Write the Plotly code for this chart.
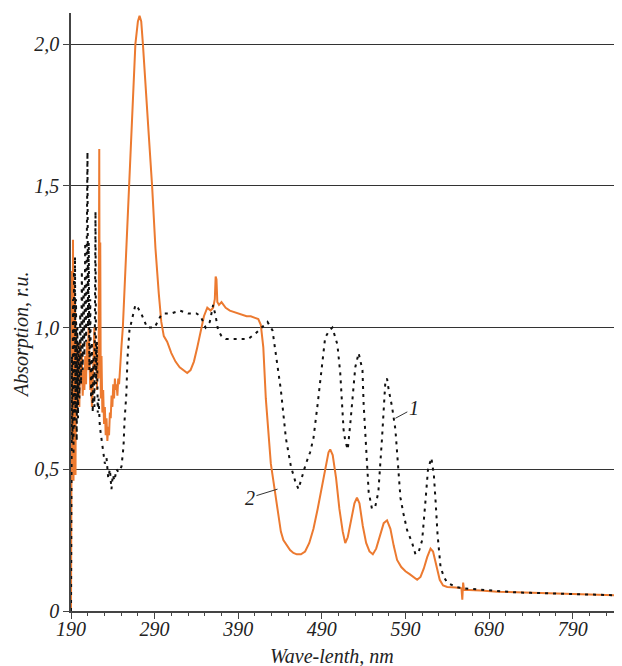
import plotly.graph_objects as go

# Curve 2 (orange, solid)
wl_2 = [190.0, 190.6, 191.2, 191.8, 192.4, 193.0, 193.6, 194.2, 194.8, 195.4, 196.0, 196.8, 197.6, 198.4,
        199.2, 200.0, 201.0, 202.0, 203.0, 204.0, 205.0, 206.0, 207.0, 208.0, 209.0, 210.0, 211.0, 212.0,
        213.0, 214.0, 215.0, 216.0, 217.0, 218.0, 219.0, 220.0, 221.0, 222.0, 223.0, 223.8, 224.3, 225.0,
        225.6, 226.5, 227.5, 228.5, 229.5, 230.5, 231.5, 232.5, 233.5, 234.5, 235.5, 236.5, 237.5, 238.5,
        239.5, 240.5, 241.5, 242.5, 243.5, 244.5, 245.5, 246.5, 247.5, 248.5, 249.5, 250.5, 252.0,
        256, 260, 264, 267, 270, 272, 274, 276, 279, 283, 287, 291, 295, 298, 301, 305, 310, 315, 320, 325,
        329, 333, 337, 341, 345, 349, 353, 357, 360, 362, 363, 364, 365, 367, 370, 375, 380, 390, 400, 405,
        410, 414, 417, 420, 423, 426, 429, 432, 435, 438, 441, 444, 448, 452, 456, 460, 465, 470, 475, 480,
        485, 490, 494, 498, 500, 503, 507, 511, 515, 518, 521, 525, 529, 532, 535, 539, 543, 547, 551, 555,
        560, 564, 568, 572, 576, 580, 585, 590, 595, 600, 604, 608, 612, 616, 620, 623, 627, 631, 635, 640,
        650, 657, 658, 659, 660, 670, 680, 700, 720, 740, 760, 780, 800, 820, 849]
abs_2 = [0.0, 0.9, 1.2, 0.6, 1.31, 0.46, 1.15, 0.55, 1.1, 0.48, 1.0, 0.7, 0.95, 0.75,
         0.9, 0.72, 0.95, 0.8, 0.9, 0.76, 0.85, 0.78, 0.9, 0.8, 0.95, 0.85, 1.0, 0.9,
         0.78, 0.85, 0.72, 0.8, 0.95, 1.0, 0.85, 0.95, 0.78, 0.9, 0.82, 1.63, 0.87, 1.3,
         0.75, 0.9, 0.7, 0.78, 0.66, 0.72, 0.62, 0.68, 0.6, 0.65, 0.62, 0.7, 0.68, 0.76,
         0.72, 0.8, 0.75, 0.82, 0.78, 0.8, 0.76, 0.82, 0.8, 0.86, 0.9, 0.94, 1.0,
         1.25, 1.5, 1.8, 2.0, 2.08, 2.1, 2.08, 2.0, 1.85, 1.68, 1.5, 1.28, 1.12, 1.02, 0.97, 0.95, 0.91,
         0.88, 0.86, 0.85, 0.84, 0.85, 0.88, 0.93, 0.99, 1.04, 1.07, 1.06, 1.07, 1.10, 1.18, 1.17, 1.09,
         1.08, 1.09, 1.07, 1.06, 1.05, 1.04, 1.04, 1.035, 1.03, 1.01, 0.93, 0.75, 0.62, 0.52, 0.46, 0.40,
         0.33, 0.28, 0.25, 0.23, 0.215, 0.205, 0.2, 0.2, 0.21, 0.24, 0.29, 0.36, 0.44, 0.51, 0.56, 0.57,
         0.55, 0.47, 0.36, 0.28, 0.24, 0.26, 0.32, 0.38, 0.40, 0.38, 0.30, 0.24, 0.21, 0.2, 0.22, 0.27,
         0.31, 0.32, 0.29, 0.23, 0.18, 0.155, 0.14, 0.13, 0.12, 0.11, 0.12, 0.15, 0.19, 0.22, 0.21, 0.16,
         0.11, 0.09, 0.085, 0.083, 0.08, 0.04, 0.1, 0.075, 0.074, 0.072, 0.068, 0.066, 0.064, 0.062, 0.06,
         0.058, 0.056, 0.055]

# Curve 1 (black, dotted)
wl_1 = [190.0, 190.6, 191.2, 191.8, 192.4, 193.0, 193.6, 194.2, 194.8, 195.4, 196.0, 196.8, 197.6, 198.4,
        199.2, 200.0, 201.0, 202.0, 203.0, 204.0, 205.0, 206.0, 207.0, 208.0, 209.0, 209.7, 210.4, 211.2,
        212.0, 213.0, 214.0, 215.0, 216.0, 217.0, 218.0, 219.3, 220.0, 221.0, 222.0, 223.0, 224.5, 226.5,
        228.5, 230.5, 232.5, 234.5, 236.5, 238.4, 240.0, 242.0, 244.4, 246.8, 249.0, 250.4, 252.8, 254.0,
        256.3, 257.5, 259.9, 263.5, 267, 270, 274, 281, 290, 297, 300, 310, 320, 330, 340, 345, 351, 356,
        360, 363, 366, 370, 375, 390, 402, 411, 418, 425, 431, 436, 441, 447, 453, 458, 462, 467, 471, 476,
        480, 485, 490, 494, 499, 502.6, 508.6, 512, 514.6, 516, 518, 521, 524, 527.6, 530, 534, 538.6, 540,
        542, 544.5, 546, 550, 554, 557.6, 560, 562, 564, 566, 568, 570, 574, 578, 580, 582, 584, 587.5, 592,
        598, 602, 606, 610, 614, 617, 621, 624, 626, 628.4, 632, 636, 640, 650, 660, 680, 700, 720, 740,
        760, 780, 800, 820, 849]
abs_1 = [0.0, 0.5, 0.9, 0.6, 1.1, 0.55, 1.2, 0.65, 1.25, 0.7, 1.1, 0.6, 1.0, 0.68,
         0.95, 0.75, 1.05, 0.8, 1.2, 0.85, 1.15, 0.9, 1.3, 0.95, 1.45, 1.62, 1.0, 1.3,
         0.85, 1.1, 0.75, 0.95, 0.7, 0.9, 0.72, 1.41, 0.8, 0.95, 0.7, 0.75, 0.65, 0.6,
         0.55, 0.52, 0.54, 0.47, 0.5, 0.43, 0.48, 0.46, 0.5, 0.49, 0.5, 0.51, 0.58, 0.67,
         0.77, 0.89, 0.99, 1.04, 1.08, 1.07, 1.05, 1.0, 1.0, 1.04, 1.05, 1.05, 1.06, 1.05, 1.05, 1.04, 1.0, 1.02,
         1.08, 1.04, 0.99, 0.97, 0.96, 0.96, 0.96, 0.98, 1.0, 1.02, 0.99, 0.89, 0.78, 0.61, 0.51, 0.46, 0.43,
         0.48, 0.52, 0.56, 0.61, 0.73, 0.85, 0.965, 0.99, 1.0, 0.94, 0.84, 0.71, 0.64, 0.6, 0.57, 0.66, 0.77,
         0.86, 0.91, 0.85, 0.73, 0.61, 0.51, 0.42, 0.36, 0.37, 0.42, 0.51, 0.61, 0.71, 0.81, 0.82, 0.78, 0.72,
         0.64, 0.56, 0.46, 0.40, 0.345, 0.285, 0.24, 0.20, 0.21, 0.25, 0.39, 0.5, 0.54, 0.48, 0.39, 0.27,
         0.155, 0.12, 0.10, 0.085, 0.08, 0.075, 0.07, 0.066, 0.064, 0.062, 0.06, 0.058, 0.056, 0.055]

x_ticks = [190, 290, 390, 490, 590, 690, 790]
x_ticktext = ["190", "290", "390", "490", "590", "690", "790"]
y_ticks = [0, 0.5, 1.0, 1.5, 2.0]
y_ticktext = ["0", "0,5", "1,0", "1,5", "2,0"]

FONT = "Liberation Serif"
W, H = 622, 666
OFF = 8  # page body offset in the browser
# target plot area in the photographed window: x 71..622, y 13..611
L, T = 71 - OFF, 13 - OFF
PW, PH = 551, 598
R = W - L - PW
B = H - T - PH

fig = go.Figure()
fig.add_trace(go.Scatter(x=wl_2, y=abs_2, mode="lines",
                         line=dict(color="#EC7A30", width=2), name="2"))
fig.add_trace(go.Scatter(x=wl_1, y=abs_1, mode="lines",
                         line=dict(color="#111111", width=2, dash="3px,5px"), name="1"))

tickfont = dict(family=FONT, size=20, style="italic", color="#222")
fig.update_layout(
    width=W, height=H, margin=dict(l=L, r=R, t=T, b=B, autoexpand=False),
    plot_bgcolor="white", paper_bgcolor="white", showlegend=False,
    xaxis=dict(range=[190, 849], tickvals=x_ticks, ticktext=x_ticktext, tickfont=tickfont,
               showgrid=False, zeroline=False, showline=True, linecolor="#444", linewidth=1.5,
               ticks="outside", ticklen=6, tickwidth=1.2, tickcolor="#444", automargin=False,
               ticklabelstandoff=-7,
               minor=dict(dtick=20, tick0=190, ticks="outside", ticklen=3, tickwidth=1, tickcolor="#444", showgrid=False)),
    yaxis=dict(range=[0, 2.11], tickvals=y_ticks, ticktext=y_ticktext, tickfont=tickfont,
               showgrid=True, gridcolor="#333", gridwidth=1.4, zeroline=False, automargin=False,
               showline=True, linecolor="#444", linewidth=1.5,
               ticks="outside", ticklen=6, tickwidth=1.2, tickcolor="#444"),
)

def px_x(p):
    return (p - OFF - L) / PW
def px_y(p):
    return (T + PH - (p - OFF)) / PH

fig.add_annotation(x=px_x(332), y=px_y(656), xref="paper", yref="paper", text="Wave-lenth, nm",
                   xanchor="center", yanchor="middle",
                   showarrow=False, font=dict(family=FONT, size=20, style="italic", color="#222"))
fig.add_annotation(x=px_x(21), y=px_y(335), xref="paper", yref="paper", text="Absorption, r.u.",
                   xanchor="center", yanchor="middle",
                   textangle=-90, showarrow=False, font=dict(family=FONT, size=20, style="italic", color="#222"))

fig.add_annotation(x=578, y=0.68, ax=600, ay=0.715, xref="x", yref="y", axref="x", ayref="y",
                   text="1", showarrow=True, arrowhead=0, arrowwidth=1, arrowcolor="#333",
                   font=dict(family=FONT, size=20, style="italic", color="#222"))
fig.add_annotation(x=437, y=0.43, ax=404, ay=0.40, xref="x", yref="y", axref="x", ayref="y",
                   text="2", showarrow=True, arrowhead=0, arrowwidth=1, arrowcolor="#333",
                   font=dict(family=FONT, size=20, style="italic", color="#222"))

fig.write_html("out.html")
